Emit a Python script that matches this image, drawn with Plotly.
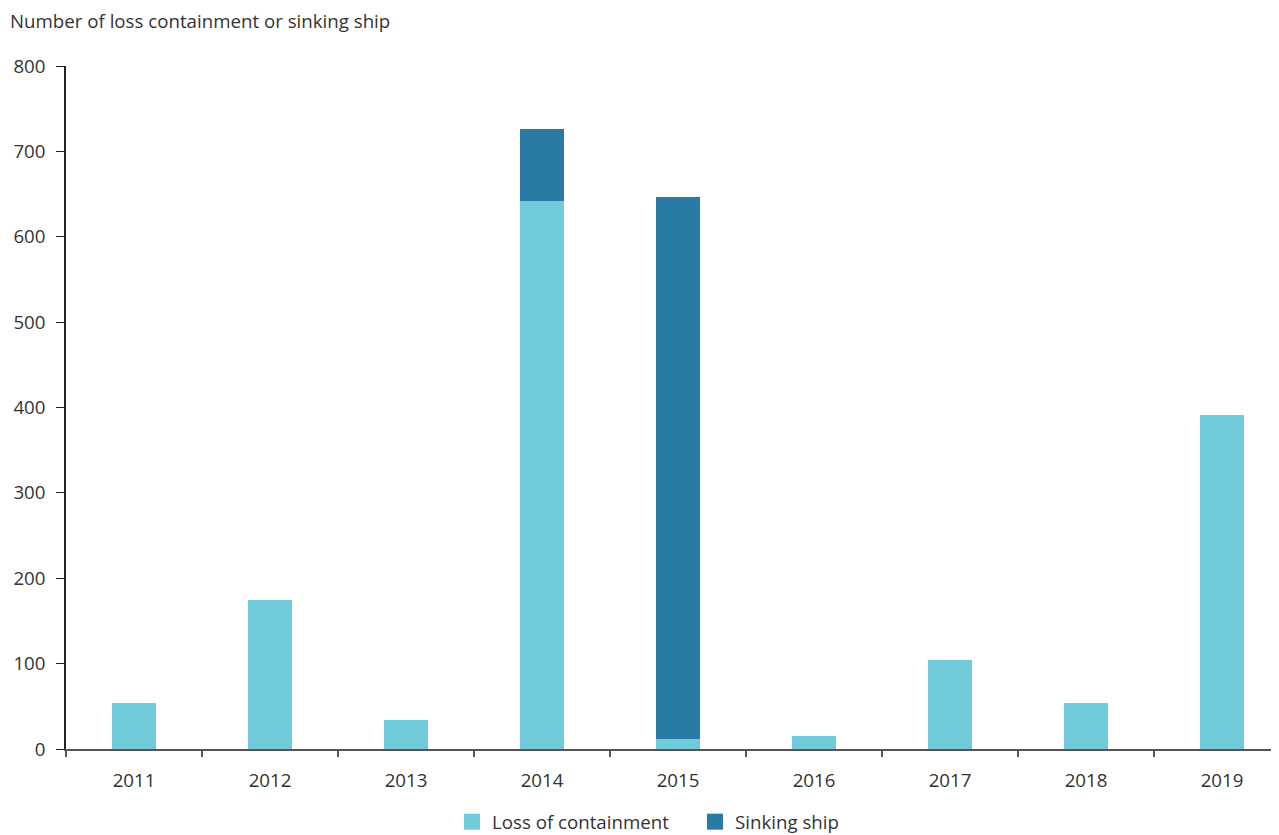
import plotly.graph_objects as go

years = ["2011", "2012", "2013", "2014", "2015", "2016", "2017", "2018", "2019"]
loss_of_containment = [54, 175, 34, 642, 12, 15, 104, 54, 391]
sinking_ship = [0, 0, 0, 84, 634, 0, 0, 0, 0]
y_ticks = [0, 100, 200, 300, 400, 500, 600, 700, 800]
series_names = ["Loss of containment", "Sinking ship"]
series_colors = ["#72cbda", "#297ba5"]

font_family = "Open Sans, Noto Sans, sans-serif"
text_color = "#333333"
fs = 18.7

W, H = 1271, 827
ML, MT, MB = 58, 58, 86
PW, PH = W - ML, H - MT - MB
CAT_PX = 136  # pixel width of one category in the reference (axis runs past the right edge)

fig = go.Figure()
for vals, name, col in zip([loss_of_containment, sinking_ship], series_names, series_colors):
    fig.add_trace(go.Bar(
        x=years, y=vals, name=name, showlegend=False,
        marker=dict(color=col, line=dict(width=0)), width=0.32,
    ))
# legend entries with larger square swatches
for name, col in zip(series_names, series_colors):
    fig.add_trace(go.Scatter(
        x=[None], y=[None], mode="markers", name=name,
        marker=dict(symbol="square", size=16, color=col),
    ))

fig.update_layout(
    barmode="stack",
    width=W, height=H,
    margin=dict(l=ML, r=0, t=MT, b=MB, pad=0),
    plot_bgcolor="white", paper_bgcolor="white",
    font=dict(family=font_family, size=fs, color=text_color),
    showlegend=True,
    legend=dict(orientation="h", xref="container", yref="container",
                x=444 / W, xanchor="left", y=13 / H, yanchor="middle",
                font=dict(size=fs, color=text_color), itemwidth=30,
                entrywidth=198, traceorder="normal"),
    xaxis=dict(
        type="category", range=[-0.5, -0.5 + PW / CAT_PX],
        showline=True, linecolor="#555555", linewidth=2,
        ticks="outside", tickson="boundaries", ticklen=6, tickcolor="#555555",
        tickwidth=1.5, showgrid=False, tickfont=dict(size=fs, color=text_color),
        automargin=False, ticklabelstandoff=14,
    ),
    yaxis=dict(
        range=[0, 800], tickvals=y_ticks, showline=True, linecolor="#222222",
        linewidth=1.5, ticks="outside", ticklen=8, tickcolor="#222222",
        showgrid=False, zeroline=False, tickfont=dict(size=fs, color=text_color),
        automargin=False, ticklabelstandoff=7,
    ),
    annotations=[dict(
        text="Number of loss containment or sinking ship", xref="paper", yref="paper",
        x=(0 - ML) / PW, y=1 + (MT - 12) / PH, xanchor="left", yanchor="middle",
        showarrow=False, font=dict(size=fs, color=text_color),
    )],
)

fig.write_html("out.html")
